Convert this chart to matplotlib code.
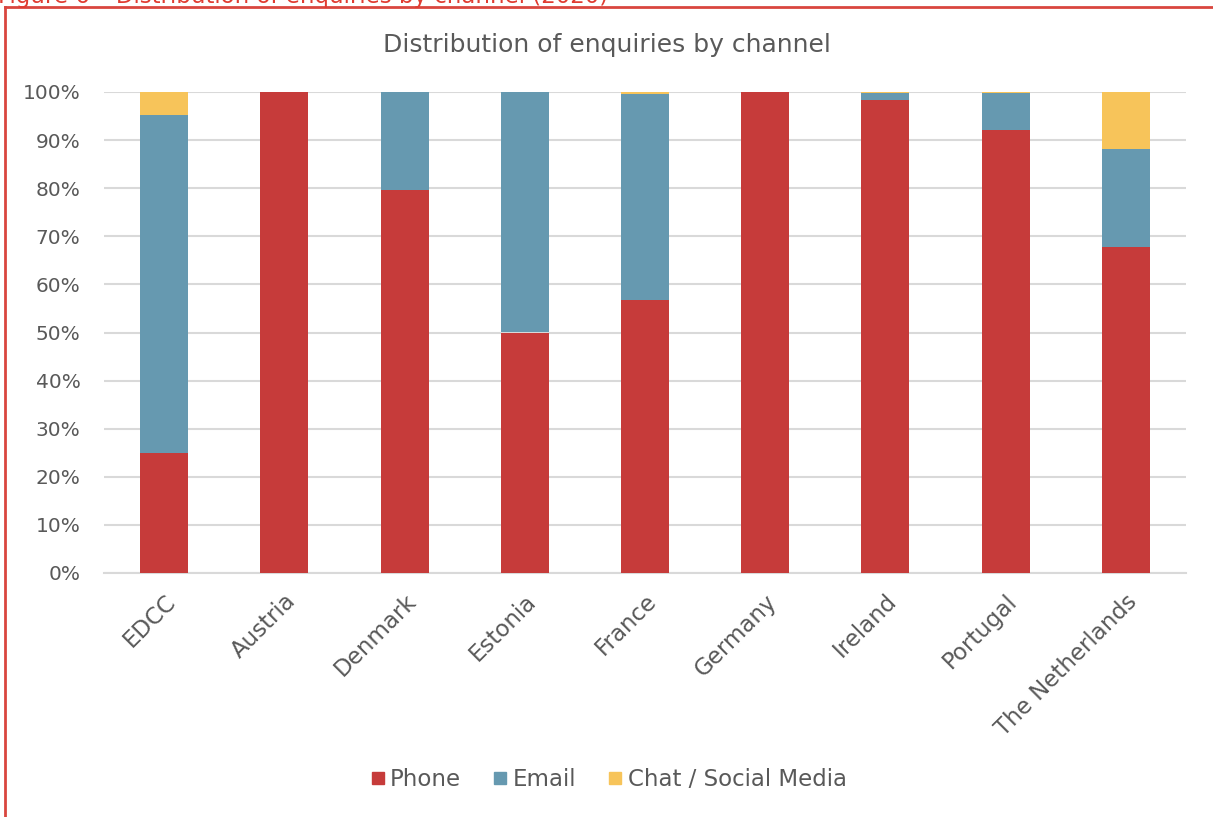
import matplotlib
matplotlib.use("Agg")
import matplotlib.pyplot as plt
from matplotlib.ticker import PercentFormatter
from matplotlib.lines import Line2D

countries = ["EDCC", "Austria", "Denmark", "Estonia", "France",
             "Germany", "Ireland", "Portugal", "The Netherlands"]
phone = [25.0, 100.0, 79.6, 50.0, 56.8, 100.0, 98.3, 92.0, 67.8]
email = [70.2, 0.0, 20.4, 50.0, 42.8, 0.0, 1.4, 7.7, 20.4]
chat = [4.8, 0.0, 0.0, 0.0, 0.4, 0.0, 0.3, 0.3, 11.8]

series = [("Phone", phone, "#C63B3A"),
          ("Email", email, "#6699B0"),
          ("Chat / Social Media", chat, "#F7C45A")]

plt.rcParams["font.family"] = ["DejaVu Sans"]
TXT = "#595959"

fig = plt.figure(figsize=(12.13, 8.17), dpi=100)
ax = fig.add_axes([104 / 1213, 1 - 573 / 817, (1186 - 104) / 1213, (573 - 92) / 817])

x = list(range(len(countries)))
bottom = [0.0] * len(countries)
for name, vals, col in series:
    ax.bar(x, vals, width=0.4, bottom=bottom, color=col, label=name, zorder=3)
    bottom = [b + v for b, v in zip(bottom, vals)]

ax.set_xlim(-0.5, len(countries) - 0.5)
ax.set_ylim(0, 100)
ax.set_yticks(range(0, 101, 10))
ax.yaxis.set_major_formatter(PercentFormatter(decimals=0))
ax.grid(True, axis="y", color="#D9D9D9", linewidth=1.5, zorder=0)
for s in ["top", "right", "left"]:
    ax.spines[s].set_visible(False)
ax.spines["bottom"].set_color("#D9D9D9")
ax.spines["bottom"].set_linewidth(1.5)
ax.tick_params(axis="y", length=0, labelsize=14.5, colors=TXT, pad=17)
ax.set_xticks(x)
ax.set_xticklabels(countries, rotation=45, ha="right", rotation_mode="anchor")
ax.tick_params(axis="x", length=0, labelsize=16.5, colors=TXT, pad=12)

fig.text(0.5, 1 - 45 / 817, "Distribution of enquiries by channel",
         ha="center", va="center", fontsize=18, color=TXT)

handles = [Line2D([], [], marker="s", linestyle="", markersize=9,
                  markerfacecolor=c, markeredgecolor=c) for _, _, c in series]
fig.legend(handles, [n for n, _, _ in series], loc="center",
           bbox_to_anchor=(0.5, 1 - 780 / 817), ncol=3, frameon=False,
           fontsize=16.5, labelcolor=TXT, handletextpad=0.05, columnspacing=1.2,
           handlelength=1.0)

# caption cut off at the top edge, plus the red frame
fig.text(-0.002, 1 - 3 / 817, "Figure 6 \u2013 Distribution of enquiries by channel (2020)",
         ha="left", va="baseline", fontsize=16.5, color="#E03C31")
fig.add_artist(Line2D([5 / 1213, 5 / 1213], [0, 1 - 7 / 817], color="#D9463F", linewidth=2,
                      transform=fig.transFigure))
fig.add_artist(Line2D([5 / 1213, 1], [1 - 7 / 817, 1 - 7 / 817], color="#D9463F", linewidth=2,
                      transform=fig.transFigure))

fig.savefig("out.png", dpi=100)
